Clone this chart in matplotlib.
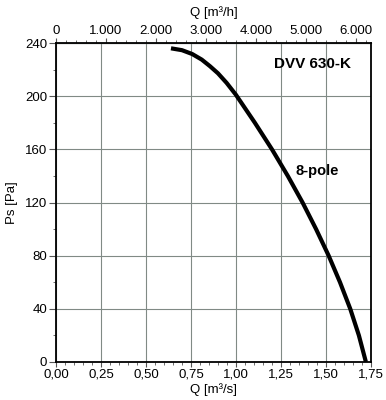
import matplotlib.pyplot as plt
from matplotlib.ticker import MultipleLocator, FuncFormatter

plt.rcParams["font.family"] = ["Liberation Sans", "DejaVu Sans"]

# fan curve DVV 630-K, 8-pole
q_m3s = [0.639, 0.70, 0.757, 0.81, 0.856, 0.90, 0.948, 1.0, 1.105, 1.20,
         1.288, 1.37, 1.445, 1.515, 1.578, 1.635, 1.683, 1.722]
ps_pa = [236, 234.6, 231.7, 227.5, 222.5, 217.2, 210, 201, 180, 160,
         140, 120, 100, 80, 60, 40, 20, 0]

x_ticks = [0.0, 0.25, 0.5, 0.75, 1.0, 1.25, 1.5, 1.75]
y_ticks = [0, 40, 80, 120, 160, 200, 240]
top_ticks = [0, 1000, 2000, 3000, 4000, 5000, 6000]

fig = plt.figure(figsize=(3.86, 4.0), dpi=100)
ax = fig.add_axes([0.145, 0.095, 0.816, 0.7975])

ax.plot(q_m3s, ps_pa, color="black", lw=3.0, solid_capstyle="butt",
        solid_joinstyle="round")

ax.set_xlim(0, 1.75)
ax.set_ylim(0, 240)
ax.set_xticks(x_ticks)
ax.set_yticks(y_ticks)
ax.xaxis.set_minor_locator(MultipleLocator(0.05))
ax.yaxis.set_minor_locator(MultipleLocator(20))
ax.xaxis.set_major_formatter(FuncFormatter(lambda v, p: f"{v:.2f}".replace(".", ",")))
ax.grid(True, which="major", color="#808a85", lw=0.8)
ax.tick_params(axis="x", which="major", direction="out", length=3.5, labelsize=9.5, pad=1, color="#555555")
ax.tick_params(axis="x", which="minor", direction="out", length=2, color="#555555")
ax.tick_params(axis="y", which="major", direction="out", length=5, labelsize=9.5, pad=1.5, color="#555555")
ax.tick_params(axis="y", which="minor", direction="out", length=2.5, color="#555555")
for s in ax.spines.values():
    s.set_linewidth(1.3)

ax.set_xlabel("Q [m³/s]", fontsize=9.5, labelpad=2)
ax.set_ylabel("Ps [Pa]", fontsize=9.5, labelpad=5)

top = ax.secondary_xaxis("top", functions=(lambda q: q * 3600, lambda h: h / 3600))
top.set_xticks(top_ticks)
top.xaxis.set_minor_locator(MultipleLocator(200))
top.xaxis.set_major_formatter(FuncFormatter(lambda v, p: f"{int(v):,}".replace(",", ".")))
top.tick_params(which="major", direction="out", length=3.5, labelsize=9.5, pad=1, color="#555555")
top.tick_params(which="minor", direction="out", length=2, color="#555555")
top.set_xlabel("Q [m³/h]", fontsize=9.5, labelpad=6)

ax.text(1.211, 221, "DVV 630-K", fontsize=11, fontweight="bold", va="baseline")
ax.text(1.333, 140.7, "8-pole", fontsize=10.5, fontweight="bold", va="baseline")

fig.savefig("out.png", dpi=100)
